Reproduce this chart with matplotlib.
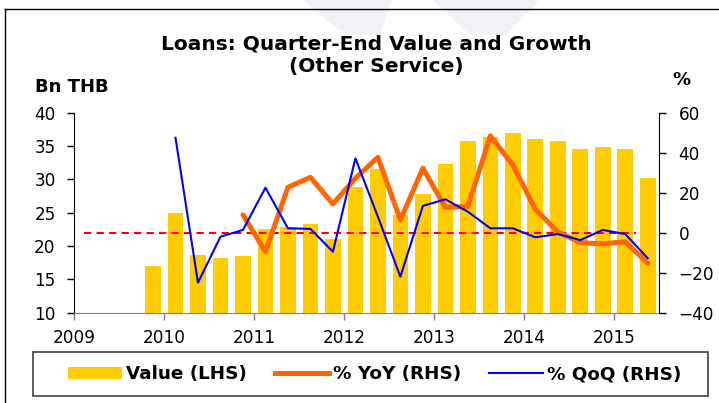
import numpy as np
import matplotlib
matplotlib.use('Agg')
import matplotlib.pyplot as plt
from matplotlib.patches import Polygon, Patch, Rectangle
from matplotlib.lines import Line2D

plt.rcParams['font.family'] = ['DejaVu Sans']

# quarters 2009Q4 .. 2015Q2
quarters = ['2009Q4',
            '2010Q1', '2010Q2', '2010Q3', '2010Q4',
            '2011Q1', '2011Q2', '2011Q3', '2011Q4',
            '2012Q1', '2012Q2', '2012Q3', '2012Q4',
            '2013Q1', '2013Q2', '2013Q3', '2013Q4',
            '2014Q1', '2014Q2', '2014Q3', '2014Q4',
            '2015Q1', '2015Q2']

# Bn THB (LHS)
value = [17.0,
         24.9, 18.65, 18.25, 18.5,
         22.55, 22.9, 23.3, 21.0,
         28.8, 31.55, 24.6, 27.8,
         32.35, 35.7, 36.3, 37.0,
         36.0, 35.75, 34.5, 34.85,
         34.55, 30.15]

# % YoY (RHS)
yoy = [None,
       None, None, None, 8.9,
       -9.5, 22.7, 27.7, 14.4,
       27.2, 37.7, 6.4, 32.2,
       12.7, 13.1, 48.4, 33.9,
       11.7, 0.5, -5.0, -5.6,
       -4.5, -15.3]

# % QoQ (RHS)
qoq = [None,
       47.5, -25.0, -2.0, 1.4,
       22.5, 2.2, 1.9, -9.5,
       37.2, 8.0, -22.0, 13.4,
       16.7, 10.5, 2.2, 2.2,
       -2.3, -0.7, -3.7, 1.4,
       -0.7, -12.8]

years = [2009, 2010, 2011, 2012, 2013, 2014, 2015]

title_1 = 'Loans: Quarter-End Value and Growth'
title_2 = '(Other Service)'


def quarter_pos(q):
    # centre of the quarter on a year axis
    y, n = int(q[:4]), int(q[-1])
    return y + (n - 1) * 0.25 + 0.125


x = np.array([quarter_pos(q) for q in quarters])
yoy = np.array([np.nan if v is None else v for v in yoy], dtype=float)
qoq = np.array([np.nan if v is None else v for v in qoq], dtype=float)

W, H = 719, 403
fig = plt.figure(figsize=(W / 100, H / 100), dpi=100)


def fx(px):
    return px / W


def fy(py):
    return 1 - py / H


# faint watermark at the top
for pts in ([(303, 0), (392, 0), (380, 35), (345, 35)],
            [(433, 0), (540, 0), (505, 35), (470, 35)]):
    fig.patches.append(Polygon([(fx(a), fy(b)) for a, b in pts], closed=True,
                               transform=fig.transFigure, facecolor='#f1f1f8',
                               edgecolor='none', zorder=0))

# frame lines (top and left)
fig.add_artist(Line2D([fx(5), 1], [fy(9), fy(9)], transform=fig.transFigure,
                      color='black', lw=1))
fig.add_artist(Line2D([fx(5), fx(5)], [fy(9), 0], transform=fig.transFigure,
                      color='black', lw=1))

ax = fig.add_axes([fx(74.3), fy(312.7), fx(659) - fx(74.3), fy(112.7) - fy(312.7)])
ax2 = ax.twinx()

ax.bar(x, value, width=0.174, color='#FFCC00', zorder=2)

ax2.plot([2009.11, 2015.24], [0, 0], color='#FF0000', lw=1.5, ls=(0, (3.5, 2.5)), zorder=2)
ax2.plot(x, yoy, color='#FF6600', lw=3.6, solid_capstyle='round', solid_joinstyle='round', zorder=3)
ax2.plot(x, qoq, color='#0000FF', lw=1.5, zorder=4)

ax.set_xlim(2009, 2015.5)
ax.set_ylim(10, 40)
ax2.set_ylim(-40, 60)
ax.set_xticks(years)
ax.set_xticklabels([str(y) for y in years])
ax.set_yticks(range(10, 41, 5))
ax2.set_yticks(range(-40, 61, 20))

for a in (ax, ax2):
    a.spines['top'].set_visible(False)
    a.set_facecolor('none')
ax.spines['bottom'].set_color('#808080')
ax2.spines['bottom'].set_visible(False)
ax2.spines['left'].set_visible(False)
ax.spines['right'].set_visible(False)
ax.tick_params(axis='y', direction='out', length=5.4, width=1, pad=8.0, labelsize=12.2)
ax.tick_params(axis='x', direction='out', length=5, width=1, color='#808080', pad=6.6, labelsize=12.2)
ax2.tick_params(axis='y', direction='out', length=5, width=1, pad=9.0, labelsize=12.2)

fig.text(fx(376), fy(49), title_1, ha='center', va='baseline', fontsize=14.5, fontweight='bold')
fig.text(fx(376), fy(71.7), title_2, ha='center', va='baseline', fontsize=14.5, fontweight='bold')
fig.text(fx(35), fy(91.7), 'Bn THB', ha='left', va='baseline', fontsize=13, fontweight='bold')
fig.text(fx(681), fy(85), '%', ha='center', va='baseline', fontsize=13, fontweight='bold')

# legend box
fig.patches.append(Rectangle((fx(33.3), fy(396)), fx(708.3) - fx(33.3), fy(352.3) - fy(396),
                             transform=fig.transFigure, facecolor='white',
                             edgecolor='#404040', lw=1.2, zorder=1))

handles = [Patch(facecolor='#FFCC00', edgecolor='none'),
           Line2D([], [], color='#FF6600', lw=3.6),
           Line2D([], [], color='#0000FF', lw=1.5)]
labels = ['Value (LHS)', '% YoY (RHS)', '% QoQ (RHS)']
leg = fig.legend(handles, labels, ncol=3, loc='center',
                 bbox_to_anchor=(fx(374.7), fy(374.2)),
                 prop={'weight': 'bold', 'size': 13.2},
                 frameon=False,
                 handlelength=2.95, handleheight=0.6, handletextpad=0.2,
                 columnspacing=1.55, borderpad=0, borderaxespad=0)

fig.savefig('out.png', dpi=100)
